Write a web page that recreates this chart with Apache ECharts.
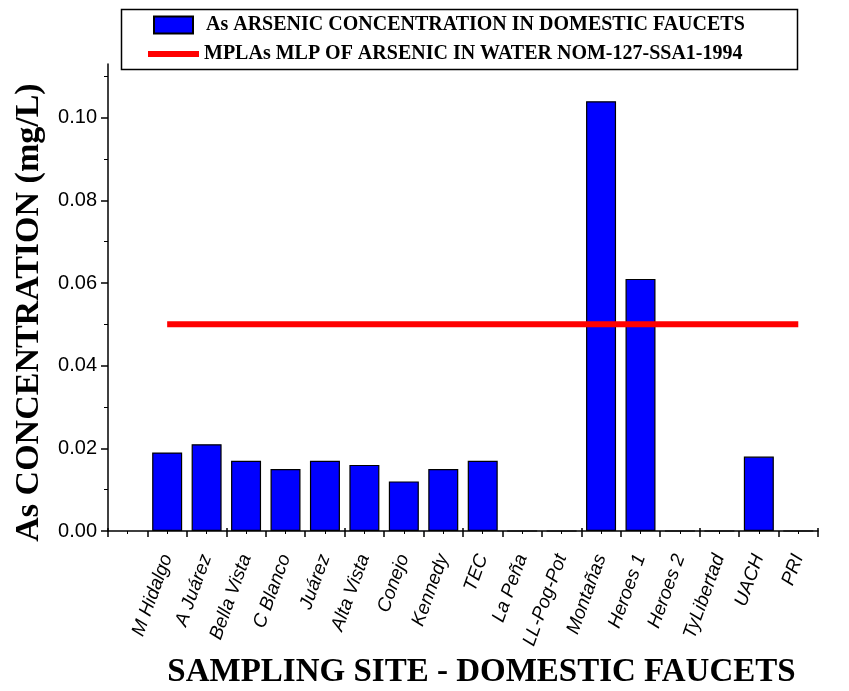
<!DOCTYPE html>
<html>
<head>
<meta charset="utf-8">
<script src="https://cdn.jsdelivr.net/npm/echarts@6/dist/echarts.min.js"></script>
<style>
  html, body { margin: 0; padding: 0; background: #fff; }
  #chart { width: 849px; height: 691px; }
</style>
</head>
<body>
<div id="chart"></div>
<script>
// sampling sites (x categories)
var sites = ['M Hidalgo', 'A Juárez', 'Bella Vista', 'C Blanco', 'Juárez', 'Alta Vista', 'Conejo',
  'Kennedy', 'TEC', 'La Peña', 'LL-Pog-Pot', 'Montañas', 'Heroes 1', 'Heroes 2', 'TyLibertad', 'UACH', 'PRI'];
// arsenic concentration, mg/L
var arsenic = [0.019, 0.021, 0.017, 0.015, 0.017, 0.016, 0.012, 0.015, 0.017,
  0, 0, 0.104, 0.061, 0, 0, 0.018, 0];
// limit NOM-127-SSA1-1994, mg/L
var mlpLimit = [0.05, 0.05, 0.05, 0.05, 0.05, 0.05, 0.05, 0.05, 0.05,
  0.05, 0.05, 0.05, 0.05, 0.05, 0.05, 0.05, 0.05];
var yTicks = [0, 0.02, 0.04, 0.06, 0.08, 0.10];
var yMinorTicks = [0.01, 0.03, 0.05, 0.07, 0.09, 0.11];

var barName = 'As ARSENIC CONCENTRATION IN DOMESTIC FAUCETS';
var lineName = 'MPLAs MLP OF ARSENIC IN WATER NOM-127-SSA1-1994';

// first slot on the axis is left empty, like the original plot
var axisCats = [''].concat(sites);

var serif = 'Liberation Serif, Times New Roman, serif';
var sans = 'Liberation Sans, Arial, sans-serif';

var chart = echarts.init(document.getElementById('chart'));
chart.setOption({
  animation: false,
  backgroundColor: '#fff',
  grid: { left: 108, right: 31, top: 64, bottom: 160, outerBoundsMode: 'none', containLabel: false },
  legend: [
    {
      data: [{ name: barName, icon: 'rect' }],
      left: 153, top: 15, padding: 0,
      itemWidth: 39, itemHeight: 17,
      selectedMode: false,
      textStyle: { fontFamily: serif, fontWeight: 'bold', fontSize: 20, color: '#000', padding: [0, 0, 0, 8] }
    },
    {
      data: [{ name: lineName, icon: 'rect' }],
      left: 148, top: 44, padding: 0,
      itemWidth: 51, itemHeight: 6,
      selectedMode: false,
      itemStyle: { borderWidth: 0 },
      textStyle: { fontFamily: serif, fontWeight: 'bold', fontSize: 20, color: '#000' }
    }
  ],
  graphic: [{
    type: 'rect', left: 119, top: 7, z: -1,
    shape: { width: 676, height: 60 },
    style: { fill: 'none', stroke: '#000', lineWidth: 1.5 }
  }],
  xAxis: [
    {
      type: 'category',
      data: axisCats,
      boundaryGap: true,
      name: 'SAMPLING SITE - DOMESTIC FAUCETS',
      nameLocation: 'middle',
      nameGap: 124,
      nameTextStyle: { fontFamily: serif, fontWeight: 'bold', fontSize: 33, color: '#000', padding: [0, 0, 0, 37] },
      axisLine: { lineStyle: { color: '#000', width: 1.5 } },
      axisTick: { show: true, inside: false, length: 6, lineStyle: { color: '#000', width: 1.5 } },
      axisLabel: {
        interval: 0, rotate: 70, margin: 24,
        fontFamily: sans, fontStyle: 'italic', fontSize: 19, color: '#000'
      },
      splitLine: { show: false }
    },
    {
      // minor ticks at the category centres
      type: 'category',
      data: axisCats,
      boundaryGap: true,
      position: 'bottom',
      axisLine: { show: false },
      axisTick: { show: true, alignWithLabel: true, interval: 0, length: 3, lineStyle: { color: '#000', width: 1 } },
      axisLabel: { show: false },
      splitLine: { show: false }
    },
    {
      // major ticks poke a little above the axis line too
      type: 'category',
      data: axisCats,
      boundaryGap: true,
      position: 'bottom',
      axisLine: { show: false },
      axisTick: { show: true, inside: true, length: 3, lineStyle: { color: '#000', width: 1.5 } },
      axisLabel: { show: false },
      splitLine: { show: false }
    }
  ],
  yAxis: [
    {
      type: 'value',
      min: 0, max: 0.113,
      name: 'As CONCENTRATION (mg/L)',
      nameLocation: 'middle',
      nameRotate: 90,
      nameGap: 62,
      nameTextStyle: { fontFamily: serif, fontWeight: 'bold', fontSize: 34, color: '#000', padding: [0, 30, 0, 0] },
      axisLine: { show: true, lineStyle: { color: '#000', width: 1.5 } },
      axisTick: { show: true, length: 7, customValues: yTicks, lineStyle: { color: '#000', width: 1.5 } },
      axisLabel: {
        customValues: yTicks, margin: 11,
        fontFamily: sans, fontSize: 20, color: '#000',
        formatter: function (v) { return v.toFixed(2); }
      },
      splitLine: { show: false }
    },
    {
      // minor ticks
      type: 'value',
      min: 0, max: 0.113,
      position: 'left',
      axisLine: { show: false },
      axisTick: { show: true, length: 4, customValues: yMinorTicks, lineStyle: { color: '#000', width: 1 } },
      axisLabel: { show: false },
      splitLine: { show: false }
    }
  ],
  series: [
    {
      name: barName,
      type: 'bar',
      xAxisIndex: 0, yAxisIndex: 0,
      barWidth: 30,
      data: [null].concat(arsenic),
      itemStyle: { color: '#0000ff', borderColor: '#000', borderWidth: 1.2 }
    },
    {
      name: lineName,
      type: 'line',
      xAxisIndex: 0, yAxisIndex: 0,
      data: [null].concat(mlpLimit),
      symbol: 'none',
      color: '#ff0000',
      lineStyle: { color: '#ff0000', width: 6 },
      z: 3
    }
  ]
});
</script>
</body>
</html>
